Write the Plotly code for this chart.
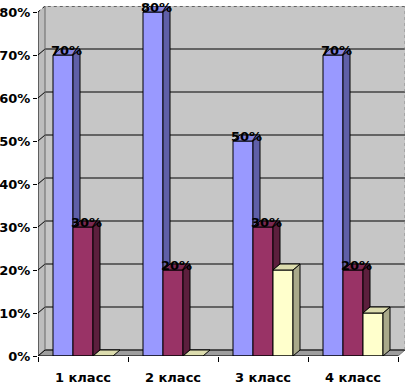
import plotly.graph_objects as go

categories = ["1 класс", "2 класс", "3 класс", "4 класс"]
series_blue = [70, 80, 50, 70]
series_maroon = [30, 20, 30, 20]
series_yellow = [0, 0, 20, 10]
y_tick_values = [0, 10, 20, 30, 40, 50, 60, 70, 80]
labelled_series = [True, True, False]

series = [series_blue, series_maroon, series_yellow]
front_colors = ["#9999FF", "#993366", "#FFFFCC"]
side_colors = ["#5F5FA8", "#5C1F3D", "#A9A98A"]
top_colors = ["#8585E0", "#7A2952", "#DCDCAE"]

# pseudo-3D depth (in data units)
DX = 7 / 90
DY = 6 / 4.3
BW = 0.2222
offsets = [-0.3333, -0.1111, 0.1111]
YMAX = y_tick_values[-1]
XL, XR = -0.5, len(categories) - 0.5

font_family = "DejaVu Sans"
fig = go.Figure()

# front faces
for s, vals in enumerate(series):
    fig.add_trace(go.Bar(
        x=list(range(len(categories))), y=vals, width=BW, offset=offsets[s],
        marker=dict(color=front_colors[s], line=dict(color="black", width=1)),
        showlegend=False, hoverinfo="skip"))

# side and top faces
for i in range(len(categories)):
    for s, vals in enumerate(series):
        v = vals[i]
        x0 = i + offsets[s]
        x1 = x0 + BW
        h = series[s + 1][i] if s + 1 < len(series) else 0
        if v > h:
            fig.add_trace(go.Scatter(
                x=[x1, x1, x1 + DX, x1 + DX, x1], y=[h, v, v + DY, h + DY, h],
                mode="lines", fill="toself", fillcolor=side_colors[s],
                line=dict(color="black", width=1), showlegend=False, hoverinfo="skip"))
        fig.add_trace(go.Scatter(
            x=[x0, x1, x1 + DX, x0 + DX, x0], y=[v, v, v + DY, v + DY, v],
            mode="lines", fill="toself", fillcolor=top_colors[s],
            line=dict(color="black", width=1), showlegend=False, hoverinfo="skip"))

# data labels
lx, ly, lt = [], [], []
for s, vals in enumerate(series):
    if not labelled_series[s]:
        continue
    for i, v in enumerate(vals):
        lx.append(i + offsets[s] + BW / 2 + DX / 2)
        ly.append(v + DY / 2)
        lt.append(f"{v}%")
fig.add_trace(go.Scatter(
    x=lx, y=ly, text=lt, mode="text", textposition="middle center",
    textfont=dict(family=font_family, size=13, color="black", weight="bold"),
    cliponaxis=False, showlegend=False, hoverinfo="skip"))

shapes = []
wall = "#C6C6C6"
# back wall
shapes.append(dict(type="rect", xref="x", yref="y", x0=XL + DX, x1=XR + DX, y0=DY, y1=YMAX + DY,
                   fillcolor=wall, line=dict(width=0), layer="below"))
# left wall
shapes.append(dict(type="path", xref="x", yref="y",
                   path=f"M{XL},0 L{XL},{YMAX} L{XL+DX},{YMAX+DY} L{XL+DX},{DY} Z",
                   fillcolor="#BDBDBD", line=dict(width=0), layer="below"))
# floor
shapes.append(dict(type="path", xref="x", yref="y",
                   path=f"M{XL},0 L{XR},0 L{XR+DX},{DY} L{XL+DX},{DY} Z",
                   fillcolor="#9E9E9E", line=dict(color="#777777", width=1), layer="below"))
# gridlines
for t in y_tick_values:
    dash = "dot" if t == YMAX else "solid"
    shapes.append(dict(type="path", xref="x", yref="y",
                       path=f"M{XL},{t} L{XL+DX},{t+DY} L{XR+DX},{t+DY}",
                       line=dict(color="black", width=1, dash=dash), layer="below"))
# wall edges
shapes.append(dict(type="line", xref="x", yref="y", x0=XL + DX, x1=XL + DX, y0=DY, y1=YMAX + DY,
                   line=dict(color="#666666", width=1), layer="below"))
shapes.append(dict(type="line", xref="x", yref="y", x0=XR + DX, x1=XR + DX, y0=DY, y1=YMAX + DY,
                   line=dict(color="#888888", width=1, dash="dot"), layer="below"))
# axis lines
shapes.append(dict(type="line", xref="x", yref="y", x0=XL, x1=XL, y0=0, y1=YMAX,
                   line=dict(color="black", width=1)))
shapes.append(dict(type="line", xref="x", yref="y", x0=XL, x1=XR, y0=0, y1=0,
                   line=dict(color="black", width=1)))

fig.update_layout(
    width=408, height=385,
    margin=dict(l=38, r=3, t=6, b=29, pad=0, autoexpand=False),
    paper_bgcolor="white", plot_bgcolor="white",
    barmode="overlay", showlegend=False, shapes=shapes,
    font=dict(family=font_family, size=13, color="black"),
    xaxis=dict(range=[XL, XR + DX], tickmode="array", tickvals=list(range(len(categories))),
               ticktext=categories, ticks="outside", ticklen=9, tickcolor="rgba(0,0,0,0)",
               showgrid=False, zeroline=False, showline=False, fixedrange=True, automargin=False,
               tickfont=dict(family=font_family, size=13, weight="bold"),
               minor=dict(tickmode="array", tickvals=[k - 0.5 for k in range(len(categories) + 1)],
                          ticks="outside", ticklen=5, tickcolor="black", tickwidth=1, showgrid=False)),
    yaxis=dict(range=[0, YMAX + DY], tickmode="array", tickvals=y_tick_values,
               ticktext=[f"{t}%" for t in y_tick_values], ticks="outside", ticklen=4,
               tickcolor="black", showgrid=False, zeroline=False, showline=False, fixedrange=True,
               automargin=False, tickfont=dict(family=font_family, size=13, weight="bold")),
)

fig.write_html("out.html", config={"displayModeBar": False})
